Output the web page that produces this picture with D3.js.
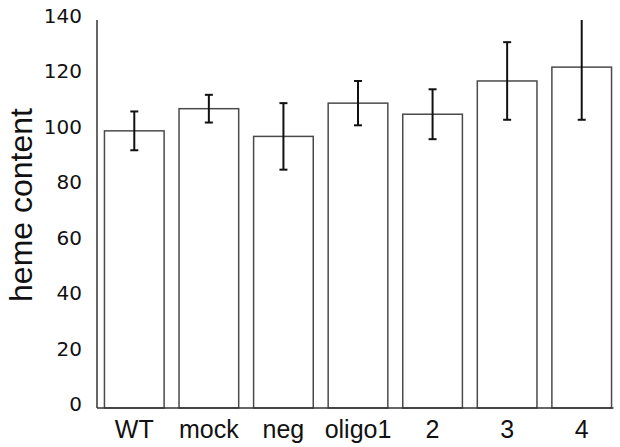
<!DOCTYPE html>
<html>
<head>
<meta charset="utf-8">
<script src="https://cdn.jsdelivr.net/npm/d3@7"></script>
<style>
  html, body { margin: 0; padding: 0; background: #fff; overflow: hidden; }
  svg { display: block; font-family: 'Liberation Sans', Arial, sans-serif; }
</style>
</head>
<body>
<div id="chart"></div>
<script>
const categories = ['WT', 'mock', 'neg', 'oligo1', '2', '3', '4'];
const means = [100, 108, 98, 110, 106, 118, 123];
const errors = [7, 5, 12, 8, 9, 14, 19];
const yTicks = [0, 20, 40, 60, 80, 100, 120, 140];

const width = 620;
const height = 447;
const margin = { top: 20, right: 1, bottom: 39, left: 97 };
const innerWidth = width - margin.left - margin.right;
const innerHeight = height - margin.top - margin.bottom;

const svg = d3.select('#chart').append('svg').attr('width', width).attr('height', height);
const g = svg.append('g').attr('transform', `translate(${margin.left},${margin.top})`);

const x = d3.scaleBand().domain(categories).range([0, innerWidth]).paddingInner(0.2).paddingOuter(0.1);
const y = d3.scaleLinear().domain([0, 140]).range([innerHeight, 0]);

const rows = categories.map((c, i) => ({ name: c, mean: means[i], err: errors[i] }));

// bars
g.selectAll('rect.bar').data(rows).join('rect')
  .attr('class', 'bar')
  .attr('x', (d) => x(d.name))
  .attr('y', (d) => y(d.mean))
  .attr('width', x.bandwidth())
  .attr('height', (d) => innerHeight - y(d.mean))
  .attr('fill', '#fff')
  .attr('stroke', '#4a4a4a')
  .attr('stroke-width', 1.5);

// error bars, clipped at the top of the axis
const capW = 8;
const errLayer = g.append('g').attr('stroke', '#111').attr('stroke-width', 2);
rows.forEach((d) => {
  const cx = x(d.name) + x.bandwidth() / 2;
  const hi = d.mean + d.err;
  const lo = d.mean - d.err;
  const yHi = y(Math.min(hi, 140));
  errLayer.append('line').attr('x1', cx).attr('x2', cx).attr('y1', yHi).attr('y2', y(lo));
  if (hi <= 140) {
    errLayer.append('line').attr('x1', cx - capW / 2).attr('x2', cx + capW / 2).attr('y1', yHi).attr('y2', yHi);
  }
  errLayer.append('line').attr('x1', cx - capW / 2).attr('x2', cx + capW / 2).attr('y1', y(lo)).attr('y2', y(lo));
});

// axes (lines only, no tick marks)
g.append('line').attr('x1', 0).attr('x2', 0).attr('y1', y(140)).attr('y2', innerHeight)
  .attr('stroke', '#333').attr('stroke-width', 1.5);
g.append('line').attr('x1', 0).attr('x2', x(categories[categories.length - 1]) + x.bandwidth() + 2)
  .attr('y1', innerHeight).attr('y2', innerHeight)
  .attr('stroke', '#333').attr('stroke-width', 1.5);

g.selectAll('text.ytick').data(yTicks).join('text')
  .attr('class', 'ytick')
  .attr('x', -15)
  .attr('y', (d) => y(d) + 3)
  .attr('text-anchor', 'end')
  .attr('font-family', "'DejaVu Sans', sans-serif")
  .attr('font-size', 20)
  .attr('fill', '#111')
  .text((d) => d);

g.selectAll('text.xtick').data(categories).join('text')
  .attr('class', 'xtick')
  .attr('x', (d) => x(d) + x.bandwidth() / 2)
  .attr('y', innerHeight + 30)
  .attr('text-anchor', 'middle')
  .attr('font-size', 25)
  .attr('fill', '#111')
  .text((d) => d);

svg.append('text')
  .attr('transform', 'rotate(-90)')
  .attr('x', -205)
  .attr('y', 32)
  .attr('text-anchor', 'middle')
  .attr('font-size', 32)
  .attr('fill', '#111')
  .text('heme content');
</script>
</body>
</html>
